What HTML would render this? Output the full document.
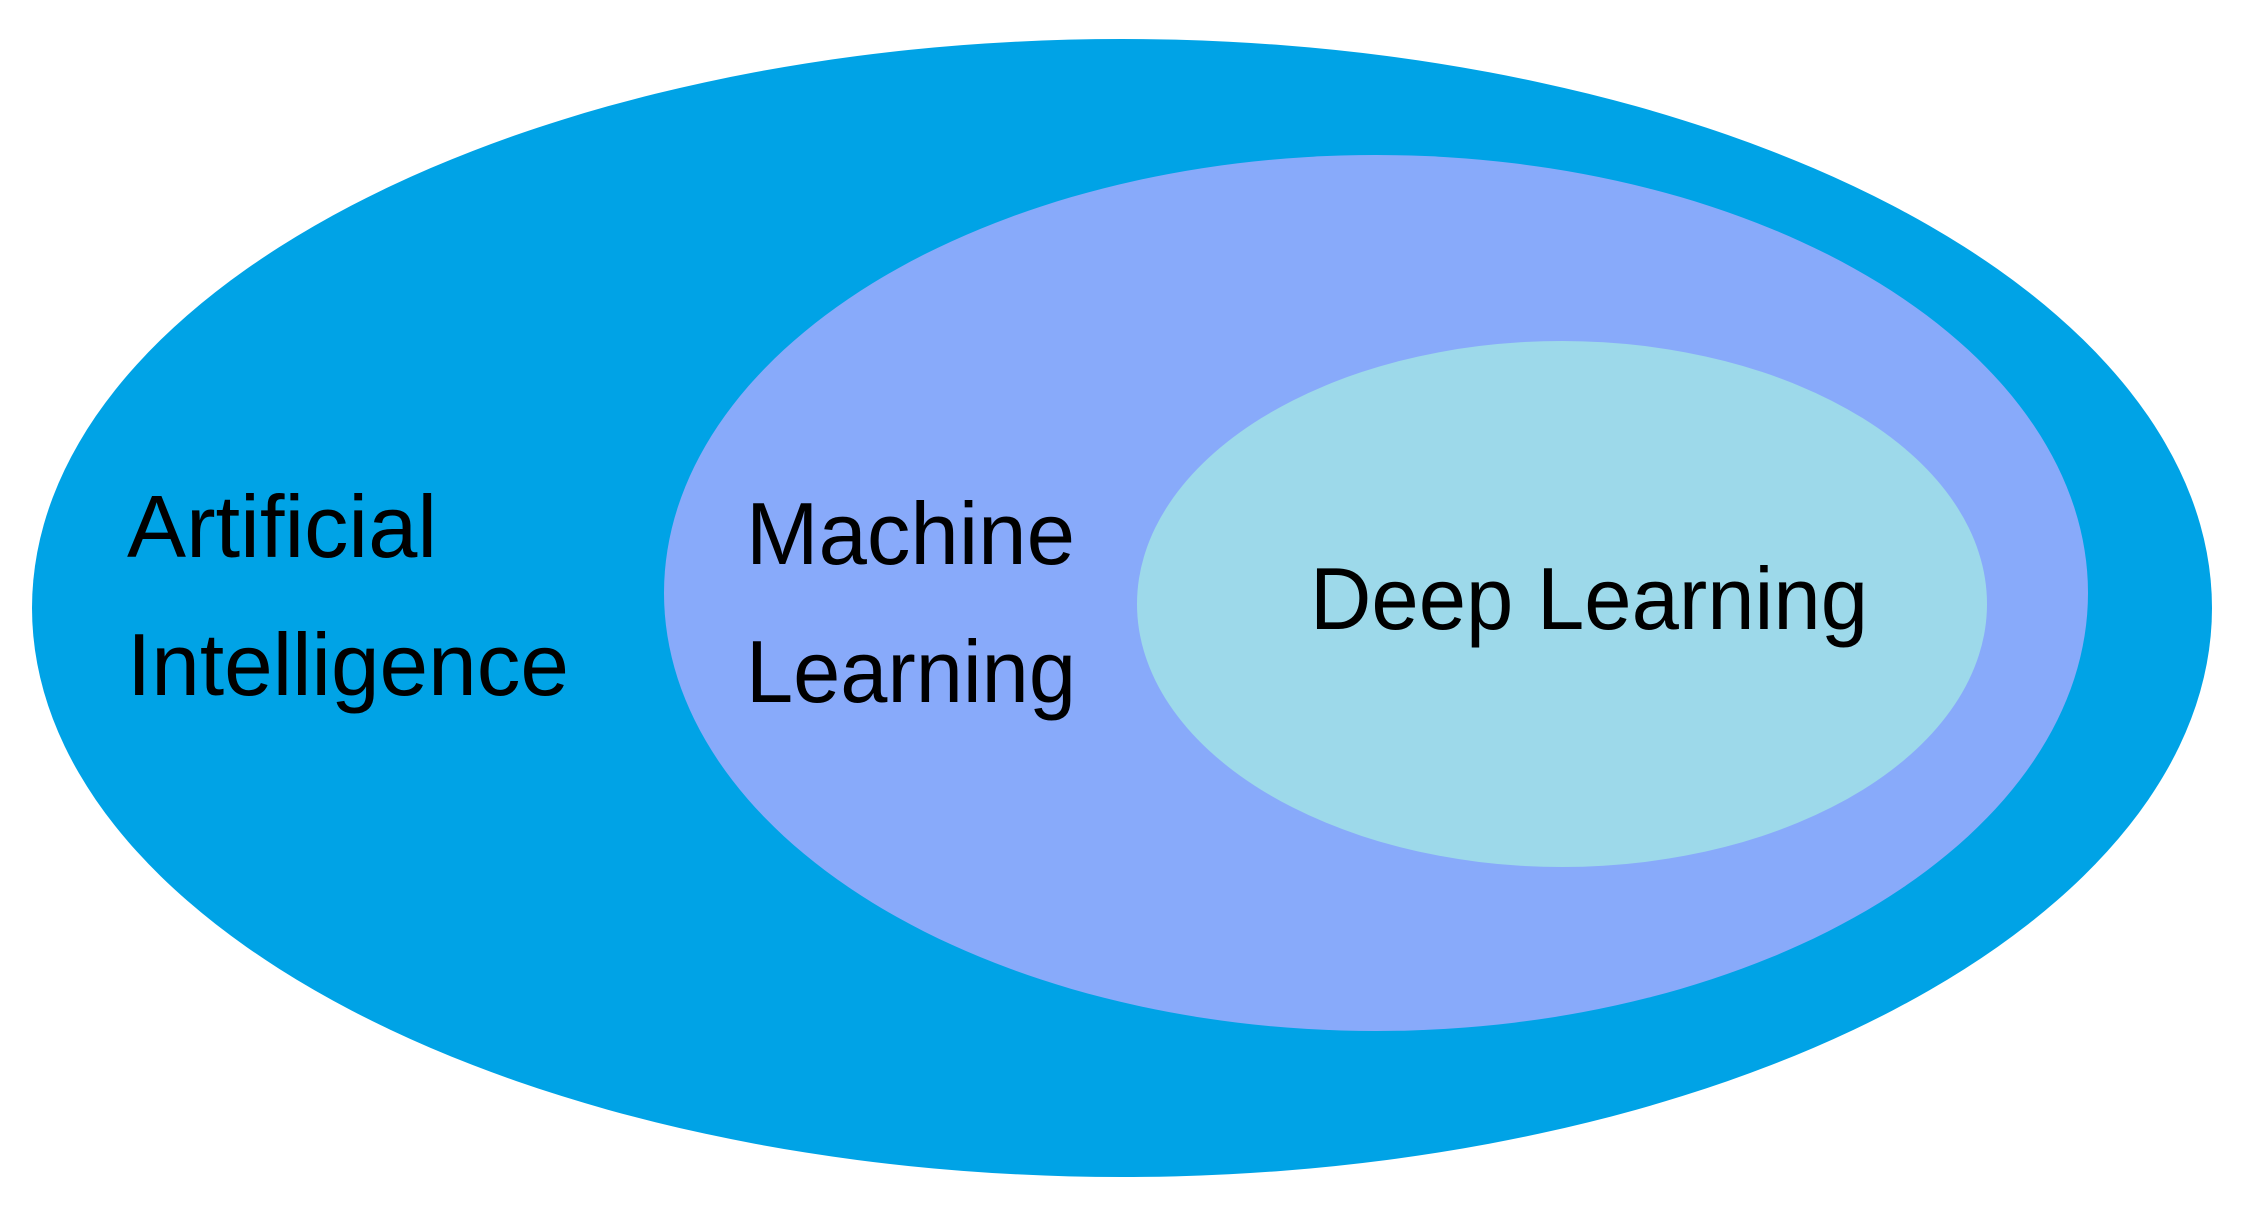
<!DOCTYPE html>
<html><head><style>body{margin:0;background:#fff}svg{display:block}</style></head>
<body>
<svg width="2261" height="1210" viewBox="0 0 2261 1210" xmlns="http://www.w3.org/2000/svg">
<ellipse cx="1122" cy="608" rx="1090" ry="569" fill="#00A3E6"/>
<ellipse cx="1376" cy="593" rx="712" ry="438" fill="#88AAFA"/>
<ellipse cx="1562" cy="604" rx="425" ry="263" fill="#9DD9EA"/>
<g font-family="Liberation Sans, sans-serif" font-size="88" fill="#000">
<text x="127" y="557" textLength="310" lengthAdjust="spacingAndGlyphs">Artificial</text>
<text x="127" y="695" textLength="442" lengthAdjust="spacingAndGlyphs">Intelligence</text>
<text x="746" y="564" textLength="329" lengthAdjust="spacingAndGlyphs">Machine</text>
<text x="746" y="702" textLength="330" lengthAdjust="spacingAndGlyphs">Learning</text>
<text x="1310" y="629" textLength="558" lengthAdjust="spacingAndGlyphs">Deep Learning</text>
</g>
</svg>
</body></html>
